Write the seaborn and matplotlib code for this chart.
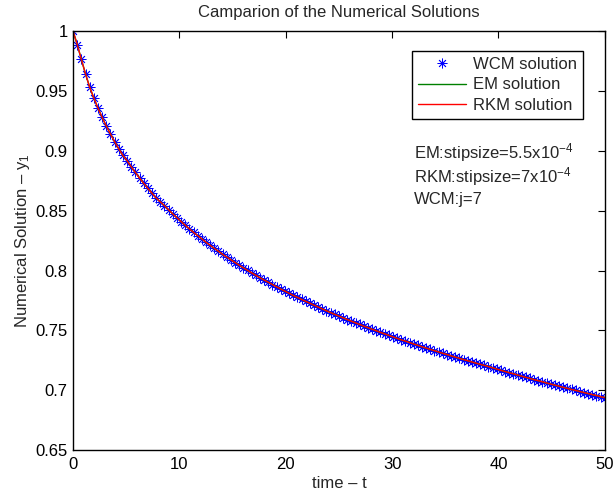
import numpy as np
import pandas as pd
import matplotlib
matplotlib.use("Agg")
import matplotlib.pyplot as plt
import seaborn as sns

# ---- data ----
t_end = 50.0
n_steps = 128
t_vals = np.linspace(0.0, t_end, n_steps + 1)  # uniform collocation grid

wcm_y = [
    1.0000, 0.9888, 0.9763, 0.9642, 0.9532, 0.9441, 0.9357, 0.9279, 0.9207, 0.9140,
    0.9077, 0.9017, 0.8961, 0.8918, 0.8867, 0.8819, 0.8773, 0.8729, 0.8686, 0.8646,
    0.8606, 0.8574, 0.8542, 0.8507, 0.8473, 0.8441, 0.8409, 0.8378, 0.8348, 0.8319,
    0.8291, 0.8263, 0.8236, 0.8210, 0.8185, 0.8160, 0.8135, 0.8112, 0.8089, 0.8066,
    0.8044, 0.8022, 0.8001, 0.7980, 0.7959, 0.7939, 0.7920, 0.7901, 0.7882, 0.7863,
    0.7845, 0.7827, 0.7809, 0.7792, 0.7775, 0.7758, 0.7742, 0.7726, 0.7710, 0.7694,
    0.7678, 0.7663, 0.7648, 0.7633, 0.7619, 0.7604, 0.7590, 0.7576, 0.7562, 0.7549,
    0.7535, 0.7522, 0.7509, 0.7496, 0.7483, 0.7471, 0.7458, 0.7446, 0.7433, 0.7421,
    0.7410, 0.7398, 0.7386, 0.7375, 0.7363, 0.7352, 0.7341, 0.7330, 0.7319, 0.7308,
    0.7298, 0.7287, 0.7277, 0.7266, 0.7256, 0.7246, 0.7236, 0.7226, 0.7216, 0.7207,
    0.7197, 0.7187, 0.7176, 0.7166, 0.7156, 0.7146, 0.7137, 0.7127, 0.7117, 0.7107,
    0.7098, 0.7088, 0.7079, 0.7070, 0.7060, 0.7051, 0.7042, 0.7033, 0.7024, 0.7015,
    0.7006, 0.6998, 0.6989, 0.6980, 0.6972, 0.6963, 0.6955, 0.6946, 0.6938,
]
em_y = list(wcm_y)    # EM solution coincides with the WCM curve
rkm_y = list(wcm_y)   # RKM solution coincides with the WCM curve

series_labels = ["WCM solution", "EM solution", "RKM solution"]
x_ticks = [0, 10, 20, 30, 40, 50]
y_ticks = [0.65, 0.7, 0.75, 0.8, 0.85, 0.9, 0.95, 1.0]
y_tick_labels = ["0.65", "0.7", "0.75", "0.8", "0.85", "0.9", "0.95", "1"]
notes = [r"EM:stipsize=5.5x10$^{-4}$", r"RKM:stipsize=7x10$^{-4}$", "WCM:j=7"]

df = pd.DataFrame({"t": t_vals, "wcm": wcm_y, "em": em_y, "rkm": rkm_y})

# ---- style ----
sns.set_theme(style="white")
plt.rcParams["font.family"] = ["Liberation Sans", "DejaVu Sans"]
plt.rcParams["mathtext.fontset"] = "custom"
plt.rcParams["mathtext.rm"] = "Liberation Sans"
plt.rcParams["mathtext.it"] = "Liberation Sans"
plt.rcParams["mathtext.default"] = "regular"

FS = 12

fig = plt.figure(figsize=(6.14, 4.94), dpi=100)
ax = fig.add_axes([0.119, 0.089, 0.866, 0.848])

sns.lineplot(data=df, x="t", y="wcm", ax=ax, linestyle="none", marker=(8, 2, 0),
             markersize=7, markeredgewidth=0.6, color="blue", markeredgecolor="blue",
             label=series_labels[0], sort=False, estimator=None)
sns.lineplot(data=df, x="t", y="em", ax=ax, color="green", linewidth=1.0,
             label=series_labels[1], sort=False, estimator=None)
sns.lineplot(data=df, x="t", y="rkm", ax=ax, color="red", linewidth=1.0,
             label=series_labels[2], sort=False, estimator=None)

ax.set_xlim(0, 50)
ax.set_ylim(0.65, 1.0)
ax.set_xticks(x_ticks)
ax.set_xticklabels([str(v) for v in x_ticks])
ax.set_yticks(y_ticks)
ax.set_yticklabels(y_tick_labels)
ax.tick_params(direction="in", length=5, width=0.8, top=True, right=True,
               labelsize=FS, colors="black", pad=4)
ax.tick_params(axis="x", pad=5)
for s in ax.spines.values():
    s.set_color("black")
    s.set_linewidth(1.0)

ax.set_title("Camparion of the Numerical Solutions", fontsize=FS, pad=10)
ax.set_xlabel("time – t", fontsize=FS, labelpad=3)
ax.set_ylabel(r"Numerical Solution – y$_1$", fontsize=FS, labelpad=2)

leg = ax.legend(loc="upper right", bbox_to_anchor=(0.959, 0.952), fontsize=FS,
                frameon=True, fancybox=False, edgecolor="black", framealpha=1,
                handlelength=2.9, handletextpad=0.4, borderpad=0.35, labelspacing=0.32,
                borderaxespad=0)
leg.get_frame().set_linewidth(1.0)

note_y = [0.709, 0.652, 0.599]
for txt, yy in zip(notes, note_y):
    ax.text(0.641, yy, txt, transform=ax.transAxes,
            fontsize=FS, ha="left", va="center")

fig.savefig("out.png", dpi=100)
